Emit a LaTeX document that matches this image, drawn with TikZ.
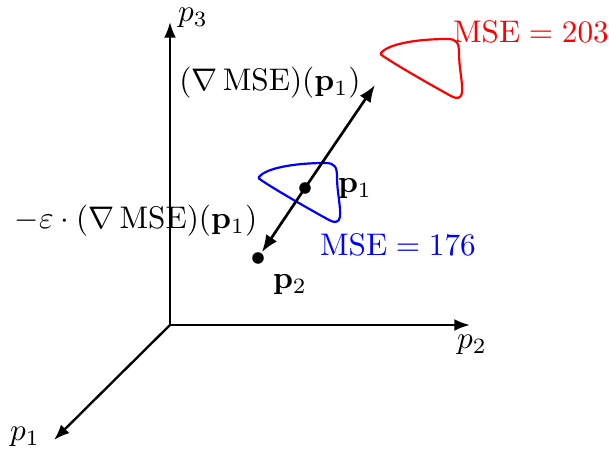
\documentclass[tikz,border=0pt]{standalone}
\usetikzlibrary{arrows.meta}
\begin{document}
\begin{tikzpicture}[x=0.32pt,y=-0.32pt, line width=0.75pt,
  axis/.style={-{Latex[length=5pt,width=3.8pt]}},
  grad/.style={line width=0.85pt,-{Latex[length=5.5pt,width=4.2pt]}},
  dot/.style={circle,fill,inner sep=0pt,minimum size=3.7pt},
  lbl/.style={inner sep=0pt},
  level/.pic={\draw[line width=0.7pt] (0,0) .. controls (8,-10) and (40,-14) .. (66,-14)
    .. controls (76,-14) and (78,-10) .. (78,0)
    .. controls (78,15) and (82,30) .. (81,40)
    .. controls (80,46) and (75,46) .. (70,43)
    .. controls (50,32) and (15,12) .. (2,3)
    .. controls (0,2) and (-1,1) .. (0,0) -- cycle;}]
\useasboundingbox (0,0) rectangle (609,451);
% axes
\coordinate (O) at (170,325);
\coordinate (X3) at (170,22);
\coordinate (X2) at (470,325);
\coordinate (X1) at (54,440);
\draw[axis] (O) -- (X3);
\draw[axis] (O) -- (X2);
\draw[axis] (O) -- (X1);
\node[lbl] (l3) at (193,18) {$p_3$};
\node[lbl] (l2) at (472,345) {$p_2$};
\node[lbl] (l1) at (25,437) {$p_1$};
% level curves
\pic[blue] at (259,177) {level};
\pic[red] at (381,53) {level};
\node[lbl,text=red] (m203) at (531,32) {$\mathrm{MSE}=203$};
\node[lbl,text=blue] (m176) at (398,245) {$\mathrm{MSE}=176$};
% points
\node[dot] (P1) at (305,188) {};
\node[dot] (P2) at (258,258) {};
\coordinate (G) at (375,85);
\draw[grad] (P1.center) -- (G);
\draw[grad] (P1.center) -- (P2);
\node[lbl] (lp1) at (355,189) {$\mathbf{p}_1$};
\node[lbl] (lp2) at (290,285) {$\mathbf{p}_2$};
\node[lbl] (lg) at (270,83) {$(\nabla\,\mathrm{MSE})(\mathbf{p}_1)$};
\node[lbl] (lng) at (136,221) {$-\varepsilon\cdot(\nabla\,\mathrm{MSE})(\mathbf{p}_1)$};
\end{tikzpicture}
\end{document}
